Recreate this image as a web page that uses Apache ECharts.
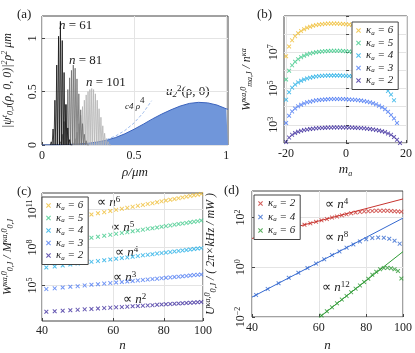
<!DOCTYPE html>
<html>
<head>
<meta charset="utf-8">
<script src="https://cdn.jsdelivr.net/npm/echarts@6/dist/echarts.min.js"></script>
<style>html,body{margin:0;padding:0;background:#fff}#main{width:415px;height:353px}</style>
</head>
<body>
<div id="main"></div>
<script>
// ---------- panel (a): radial densities ----------
const rhoTicks = [0, 0.5, 1];
const densTicks = [0, 0.5, 1];
// peaks of the oscillating |psi|^2 rho^2 curves [rho, height]
const n61Peaks = [[0.05,0.03],[0.06,0.15],[0.07,0.42],[0.08,0.75],[0.09,1.02],[0.10,1.16],[0.11,0.98],[0.12,0.68],[0.13,0.38],[0.14,0.16],[0.15,0.05],[0.16,0.01]];
const n81Peaks = [[0.10,0.03],[0.11,0.10],[0.12,0.22],[0.13,0.38],[0.14,0.52],[0.15,0.63],[0.16,0.70],[0.17,0.75],[0.18,0.72],[0.19,0.62],[0.20,0.48],[0.21,0.33],[0.22,0.20],[0.23,0.10],[0.24,0.04],[0.25,0.01]];
const n101Peaks = [[0.17,0.02],[0.18,0.06],[0.19,0.12],[0.20,0.20],[0.21,0.28],[0.22,0.36],[0.23,0.42],[0.24,0.47],[0.25,0.50],[0.26,0.52],[0.27,0.53],[0.28,0.52],[0.29,0.48],[0.30,0.42],[0.31,0.34],[0.32,0.26],[0.33,0.18],[0.34,0.11],[0.35,0.06],[0.36,0.03],[0.37,0.01]];
const u2Rho = [0, 0.05, 0.1, 0.15, 0.2, 0.25, 0.3, 0.35, 0.4, 0.45, 0.5, 0.55, 0.6, 0.65, 0.7, 0.75, 0.8, 0.85, 0.9, 0.95, 1.0, 1.01];
const u2Val = [0, 0.001, 0.003, 0.006, 0.01, 0.016, 0.028, 0.045, 0.07, 0.105, 0.148, 0.195, 0.245, 0.29, 0.33, 0.365, 0.39, 0.4, 0.395, 0.375, 0.34, 0.335];
const c4Rho = [0.35, 0.4, 0.45, 0.5, 0.55, 0.595];
const c4Val = [0.05, 0.085, 0.136, 0.207, 0.303, 0.415];

// ---------- panel (b): W vs m_a (log10 of value), m_a starting at -20 ----------
const mTicks = [-20, 0, 20];
const mFirst = -20;
const wb2 = [2.05,2.30,2.45,2.55,2.62,2.67,2.71,2.74,2.77,2.79,2.81,2.82,2.83,2.84,2.85,2.85,2.86,2.86,2.86,2.86,2.86,2.85,2.85,2.84,2.83,2.82,2.81,2.79,2.77,2.75,2.72,2.69,2.65,2.60,2.53,2.45,2.33,2.18,2.00];
const wb3 = [3.10,3.50,3.74,3.90,4.02,4.11,4.18,4.24,4.28,4.32,4.35,4.37,4.39,4.40,4.41,4.42,4.42,4.42,4.42,4.42,4.41,4.40,4.39,4.38,4.36,4.34,4.31,4.28,4.24,4.19,4.13,4.06,3.97,3.86,3.72,3.55,3.35,3.10];
const wb4 = [4.39,4.80,5.05,5.22,5.34,5.43,5.50,5.56,5.60,5.64,5.67,5.69,5.70,5.71,5.72,5.72,5.72,5.72,5.72,5.71,5.70,5.69,5.68,5.66,5.64,5.61,5.58,5.54,5.49,5.43,5.36,5.27,5.16,5.03,4.87,4.67,4.35];
const wb5 = [5.50,5.98,6.28,6.48,6.62,6.73,6.81,6.88,6.93,6.97,7.00,7.03,7.05,7.06,7.07,7.08,7.08,7.08,7.08,7.07,7.06,7.05,7.03,7.01,6.98,6.95,6.91,6.86,6.80,6.73,6.64,6.53,6.39,6.21,5.98,5.65];
const wb6 = [6.78,7.32,7.66,7.89,8.05,8.17,8.27,8.35,8.41,8.46,8.50,8.53,8.55,8.57,8.58,8.58,8.58,8.58,8.57,8.56,8.55,8.53,8.50,8.47,8.43,8.38,8.32,8.25,8.17,8.07,7.95,7.80,7.62,7.38,7.05];
const wbTicks = [1e2, 1e3, 1e4, 1e5, 1e6, 1e7, 1e8, 1e9];
const wbLabels = [1e3, 1e5, 1e7];

// ---------- panel (c): W/M vs n (log10 of value) ----------
const nTicks = [40, 60, 80, 100];
const nOdd = [41,43,45,47,49,51,53,55,57,59,61,63,65,67,69,71,73,75,77,79,81,83,85,87,89,91,93,95,97,99,101];
const wc2 = [2.93,2.97,3.01,3.05,3.08,3.12,3.15,3.19,3.22,3.25,3.28,3.30,3.33,3.36,3.38,3.41,3.43,3.45,3.48,3.50,3.52,3.54,3.56,3.58,3.60,3.62,3.64,3.66,3.68,3.70,3.71];
const wc3 = [4.72,4.78,4.84,4.90,4.95,5.01,5.06,5.10,5.15,5.19,5.24,5.28,5.32,5.36,5.40,5.44,5.47,5.51,5.54,5.58,5.61,5.64,5.67,5.70,5.73,5.76,5.79,5.82,5.84,5.87,5.90];
const wc4 = [6.42,6.50,6.58,6.66,6.73,6.80,6.87,6.93,6.99,7.05,7.11,7.17,7.22,7.27,7.32,7.38,7.42,7.47,7.52,7.56,7.60,7.64,7.69,7.73,7.77,7.80,7.84,7.88,7.92,7.95,7.99];
const wc5 = [8.21,8.32,8.41,8.51,8.60,8.69,8.77,8.85,8.93,9.00,9.08,9.15,9.21,9.28,9.34,9.41,9.47,9.52,9.58,9.64,9.69,9.74,9.80,9.85,9.90,9.94,9.99,10.04,10.08,10.13,10.17];
const wc6 = [9.93,10.06,10.17,10.28,10.39,10.50,10.60,10.70,10.79,10.88,10.97,11.05,11.13,11.21,11.29,11.36,11.44,11.50,11.57,11.64,11.71,11.77,11.83,11.89,11.95,12.01,12.07,12.12,12.17,12.23,12.28];
const wcTicks = [1e5, 1e8, 1e11];

// ---------- panel (d): U vs n (log10 of value) ----------
const nRed = [41,43,45,47,49,51,53,55,57,59,61,63,65,67,69,71,73,75,77,79,81,83,85,87,89,91,93,95,97,99,101];
const ud2 = [1.20,1.29,1.36,1.44,1.51,1.58,1.65,1.71,1.77,1.83,1.89,1.94,2.00,2.04,2.09,2.13,2.17,2.20,2.23,2.25,2.26,2.27,2.28,2.28,2.28,2.28,2.27,2.26,2.25,2.24,2.23];
const nBlue = [41,44,47,50,53,56,59,62,65,68,71,74,77,80,83,86,89,92,95,98,101];
const ud4 = [-1.11,-0.87,-0.64,-0.42,-0.22,-0.03,0.15,0.32,0.49,0.64,0.79,0.92,1.04,1.13,1.18,1.20,1.19,1.15,1.07,0.95,0.74];
const nGreen = [61,63,65,67,69,71,73,75,77,79,81,83,85,87,89,91,93,95,97,99];
const ud6 = [-1.94,-1.77,-1.61,-1.45,-1.30,-1.15,-1.00,-0.86,-0.73,-0.59,-0.46,-0.30,-0.18,-0.08,-0.03,-0.02,-0.04,-0.08,-0.15,-0.45];
// power-law guide lines (n, log10 U)
const fit2 = [[40, 1.16], [100, 2.75]];
const fit4 = [[40, -1.20], [100, 1.98]];
const fit6 = [[60, -2.03], [100, 0.63]];
const udTicks = [1e-2, 1, 1e2];

// ---------- styling ----------
const FONT = 'Liberation Serif';
const INK = '#222';
const GRIDC = '#e4e4e4';
const cB = {2: '#3d2c9e', 3: '#4a78f2', 4: '#22aee6', 5: '#3ec98a', 6: '#efbd32'};
const cD = {2: '#c8342f', 4: '#3569d0', 6: '#2e9a34'};
const XMARK = 'path://M0,1.5L1.5,0L5,3.5L8.5,0L10,1.5L6.5,5L10,8.5L8.5,10L5,6.5L1.5,10L0,8.5L3.5,5Z';

const supRich = {
  sup: {fontSize: 8, verticalAlign: 'top', lineHeight: 14, fontFamily: FONT, fontStyle: 'italic', color: INK},
  sub: {fontSize: 8, verticalAlign: 'bottom', lineHeight: 14, fontFamily: FONT, fontStyle: 'italic', color: INK},
  e: {fontSize: 8, verticalAlign: 'top', lineHeight: 14, fontFamily: FONT, color: INK, padding: [0, 0, 4, 0]}
};

const pow10 = e => Math.pow(10, e);
const expLabel = v => {
  const e = Math.round(Math.log10(v));
  return '10{e|' + (e < 0 ? '\u2212' + (-e) : e) + '}';
};

function spikes(peaks) {
  // oscillation: each peak drops back to zero halfway to the next one
  const out = [];
  peaks.forEach(([r, h], i) => {
    const prev = i > 0 ? peaks[i - 1][0] : r - 0.01;
    out.push([(prev + r) / 2, 0]);
    out.push([r, h]);
  });
  const last = peaks[peaks.length - 1][0];
  out.push([last + 0.005, 0]);
  return out;
}

const tickStyle = {show: true, inside: true, length: 3, lineStyle: {color: '#444'}};

function xAxisOf(grid, opts) {
  return Object.assign({
    gridIndex: grid,
    nameLocation: 'middle',
    nameTextStyle: {fontFamily: FONT, fontSize: 13, color: INK, fontStyle: 'italic'},
    axisLine: {show: false},
    axisTick: tickStyle,
    axisLabel: {fontFamily: FONT, fontSize: 12, color: INK, margin: 4, rich: supRich},
    splitLine: {show: true, lineStyle: {color: GRIDC, width: 1}}
  }, opts);
}
function yAxisOf(grid, opts) {
  return Object.assign({
    gridIndex: grid,
    nameLocation: 'middle',
    nameRotate: 90,
    nameTextStyle: {fontFamily: FONT, fontSize: 12, color: INK, fontStyle: 'italic', rich: supRich},
    axisLine: {show: false},
    axisTick: tickStyle,
    axisLabel: {fontFamily: FONT, fontSize: 12, color: INK, rotate: 90, margin: 3, rich: supRich},
    splitLine: {show: true, lineStyle: {color: GRIDC, width: 1}}
  }, opts);
}

const gridStyle = {show: true, borderColor: '#444', borderWidth: 1, backgroundColor: 'transparent', containLabel: false};

function scatter(name, xi, xs, ys, color) {
  return {
    name, type: 'scatter', xAxisIndex: xi, yAxisIndex: xi,
    symbol: XMARK, symbolSize: 4.5,
    itemStyle: {color},
    data: ys.map((e, i) => [xs[i], pow10(e)]),
    z: 3
  };
}
function fitLine(xi, pts, color) {
  return {
    type: 'line', xAxisIndex: xi, yAxisIndex: xi, showSymbol: false, silent: true,
    lineStyle: {color, width: 1},
    data: pts.map(p => [p[0], pow10(p[1])]),
    z: 2
  };
}

const mOf = arr => arr.map((_, i) => mFirst + i);

function legendOf(names, left, top, gap) {
  return {
    data: names, left, top, orient: 'vertical',
    icon: XMARK, itemWidth: 5, itemHeight: 5, itemGap: gap,
    padding: [3, 5, 3, 4],
    backgroundColor: '#fff', borderColor: '#444', borderWidth: 1, borderRadius: 0,
    formatter: n => '\u03ba{s|a} = ' + n.slice(1),
    textStyle: {fontFamily: FONT, fontSize: 11, color: INK, fontStyle: 'italic',
      rich: {s: {fontSize: 7, verticalAlign: 'bottom', fontStyle: 'italic', fontFamily: FONT, lineHeight: 12}}},
    selectedMode: false
  };
}

function txt(left, top, rich, text, size) {
  return {type: 'text', left, top, style: {text, fontFamily: FONT, fontSize: size || 13, fill: INK, rich}};
}
const annRich = {
  i: {fontStyle: 'italic', fontFamily: FONT, fontSize: 13, fill: INK},
  p: {fontSize: 9, verticalAlign: 'top', fontFamily: FONT, fill: INK, padding: [0, 0, 6, 0]},
  q: {fontSize: 9, verticalAlign: 'bottom', fontFamily: FONT, fill: INK, fontStyle: 'italic'}
};

const annotations = [
  txt(17, 8, annRich, '(a)', 13),
  txt(257, 8, annRich, '(b)', 13),
  txt(17, 185, annRich, '(c)', 13),
  txt(224, 184, annRich, '(d)', 13),
  txt(59, 19, annRich, '{i|n} = 61'),
  txt(69, 54, annRich, '{i|n} = 81'),
  txt(86, 76, annRich, '{i|n} = 101'),
  txt(125, 96, annRich, '{q|c}{q|4} {q|ρ}{p|4}', 9),
  txt(166, 84, annRich, '{i|u}{q|2}{p|2}(ρ, 0)'),
  txt(97, 195, annRich, '∝ {i|n}{p|6}'),
  txt(111, 220, annRich, '∝ {i|n}{p|5}'),
  txt(115, 245, annRich, '∝ {i|n}{p|4}'),
  txt(113, 270, annRich, '∝ {i|n}{p|3}'),
  txt(123, 292, annRich, '∝ {i|n}{p|2}'),
  txt(325, 197, annRich, '∝ {i|n}{p|4}'),
  txt(325, 230, annRich, '∝ {i|n}{p|8}'),
  txt(322, 280, annRich, '∝ {i|n}{p|12}')
];

const option = {
  backgroundColor: '#fff',
  animation: false,
  grid: [
    Object.assign({left: 38, top: 16, width: 190, height: 129}, gridStyle),
    Object.assign({left: 284, top: 16, width: 123, height: 127}, gridStyle),
    Object.assign({left: 39, top: 193, width: 164, height: 129}, gridStyle),
    Object.assign({left: 252, top: 191, width: 156, height: 127}, gridStyle)
  ],
  xAxis: [
    xAxisOf(0, {type: 'value', min: 0, max: 1.01, name: 'ρ/μm', nameGap: 21,
      axisLabel: {fontFamily: FONT, fontSize: 12, color: INK, margin: 5, customValues: rhoTicks},
      axisTick: Object.assign({customValues: rhoTicks}, tickStyle)}),
    xAxisOf(1, {type: 'value', min: -20.7, max: 20.3, name: 'm{s|a}', nameGap: 19,
      nameTextStyle: {fontFamily: FONT, fontSize: 13, color: INK, fontStyle: 'italic', rich: {s: {fontSize: 8, verticalAlign: 'bottom', fontStyle: 'italic', fontFamily: FONT, lineHeight: 16}}},
      axisLabel: {fontFamily: FONT, fontSize: 12, color: INK, margin: 5, customValues: mTicks},
      axisTick: Object.assign({customValues: mTicks}, tickStyle)}),
    xAxisOf(2, {type: 'log', min: 40, max: 100, name: 'n', nameGap: 18,
      axisLabel: {fontFamily: FONT, fontSize: 12, color: INK, margin: 4, customValues: nTicks},
      axisTick: Object.assign({customValues: nTicks}, tickStyle)}),
    xAxisOf(3, {type: 'log', min: 40, max: 100, name: 'n', nameGap: 22,
      axisLabel: {fontFamily: FONT, fontSize: 12, color: INK, margin: 5, customValues: nTicks},
      axisTick: Object.assign({customValues: nTicks}, tickStyle)})
  ],
  yAxis: [
    // tick labels for this axis are added below from the axis scale itself
    yAxisOf(0, {type: 'value', min: 0, max: 1.21, interval: 0.5, nameGap: 27,
      name: '|ψ{sup|t}{sub|0,J}(ρ, 0, 0)|{e|2}ρ{e|2} μm',
      axisLabel: {show: false},
      axisTick: Object.assign({customValues: densTicks}, tickStyle)}),
    yAxisOf(1, {type: 'log', min: 1e2, max: 1e9, nameGap: 30,
      name: 'W{sup|κa,0}{sub|ma,J} / n{sup|κa}',
      axisLabel: {fontFamily: FONT, fontSize: 12, color: INK, rotate: 90, margin: 3, customValues: wbLabels, formatter: expLabel, rich: supRich},
      axisTick: Object.assign({customValues: wbTicks}, tickStyle)}),
    yAxisOf(2, {type: 'log', min: pow10(2.2), max: pow10(12.3), nameGap: 27,
      name: 'W{sup|κa,0}{sub|0,J} / M{sup|κa,0}{sub|0,J}',
      axisLabel: {fontFamily: FONT, fontSize: 12, color: INK, rotate: 90, margin: 2, customValues: wcTicks, formatter: expLabel, rich: supRich},
      axisTick: Object.assign({customValues: wcTicks}, tickStyle)}),
    yAxisOf(3, {type: 'log', min: 1e-2, max: pow10(3.07), nameGap: 34,
      name: 'U{sup|κa,0}{sub|0,J} / ( 2π×kHz / mW )',
      axisLabel: {fontFamily: FONT, fontSize: 12, color: INK, rotate: 90, margin: 4, customValues: udTicks, formatter: expLabel, rich: supRich},
      axisTick: Object.assign({customValues: udTicks}, tickStyle)})
  ],
  legend: [
    legendOf(['b6', 'b5', 'b4', 'b3', 'b2'], 352, 22, 1),
    legendOf(['c6', 'c5', 'c4', 'c3', 'c2'], 42, 197, 1),
    legendOf(['d2', 'd4', 'd6'], 254, 195, 2)
  ],
  series: [
    // (a)
    {type: 'line', xAxisIndex: 0, yAxisIndex: 0, showSymbol: false, silent: true,
      lineStyle: {color: '#3b63bd', width: 1}, areaStyle: {color: '#7096da', opacity: 1},
      data: u2Val.map((v, i) => [u2Rho[i], v]), z: 1},
    {type: 'line', xAxisIndex: 0, yAxisIndex: 0, showSymbol: false, silent: true,
      lineStyle: {color: '#b4b4b4', width: 0.8}, data: spikes(n101Peaks), z: 2},
    {type: 'line', xAxisIndex: 0, yAxisIndex: 0, showSymbol: false, silent: true,
      lineStyle: {color: '#6e6e6e', width: 0.8}, data: spikes(n81Peaks), z: 3},
    {type: 'line', xAxisIndex: 0, yAxisIndex: 0, showSymbol: false, silent: true,
      lineStyle: {color: '#111', width: 0.8}, data: spikes(n61Peaks), z: 4},
    {type: 'line', xAxisIndex: 0, yAxisIndex: 0, showSymbol: false, silent: true,
      lineStyle: {color: '#9dbbec', width: 1, type: [3, 2]},
      data: c4Val.map((v, i) => [c4Rho[i], v]), z: 5},
    // (b)
    scatter('b2', 1, mOf(wb2), wb2, cB[2]),
    scatter('b3', 1, mOf(wb3), wb3, cB[3]),
    scatter('b4', 1, mOf(wb4), wb4, cB[4]),
    scatter('b5', 1, mOf(wb5), wb5, cB[5]),
    scatter('b6', 1, mOf(wb6), wb6, cB[6]),
    // (c)
    scatter('c2', 2, nOdd, wc2, cB[2]),
    scatter('c3', 2, nOdd, wc3, cB[3]),
    scatter('c4', 2, nOdd, wc4, cB[4]),
    scatter('c5', 2, nOdd, wc5, cB[5]),
    scatter('c6', 2, nOdd, wc6, cB[6]),
    // (d)
    fitLine(3, fit2, cD[2]),
    fitLine(3, fit4, cD[4]),
    fitLine(3, fit6, cD[6]),
    scatter('d2', 3, nRed, ud2, cD[2]),
    scatter('d4', 3, nBlue, ud4, cD[4]),
    scatter('d6', 3, nGreen, ud6, cD[6])
  ],
  graphic: annotations
};

const chart = echarts.init(document.getElementById('main'));
chart.setOption(option);

// rotated tick labels of panel (a)'s y axis, placed through the axis scale
const axisX = chart.convertToPixel({xAxisIndex: 0}, 0);
const densLabels = densTicks.map(v => ({
  type: 'text',
  x: axisX - 9,
  y: chart.convertToPixel({yAxisIndex: 0}, v),
  rotation: Math.PI / 2,
  style: {text: String(v), fontFamily: FONT, fontSize: 12, fill: INK, align: 'center', verticalAlign: 'middle'}
}));
chart.setOption({graphic: annotations.concat(densLabels)});
</script>
</body>
</html>
